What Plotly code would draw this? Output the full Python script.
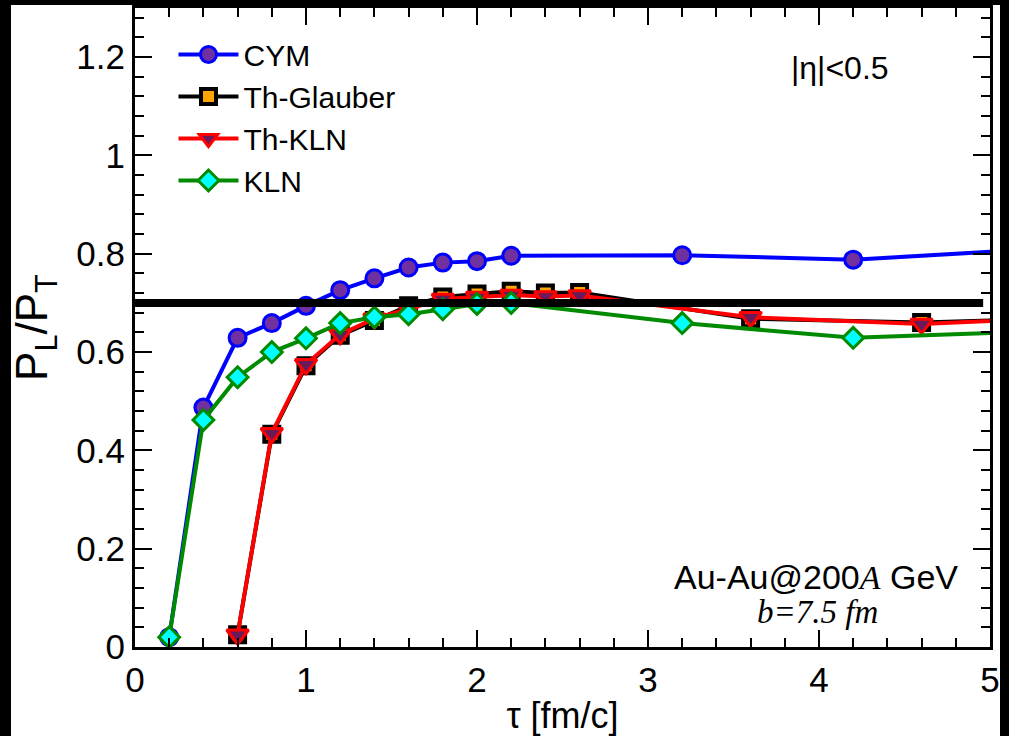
import plotly.graph_objects as go

# ---- data ----
tau_cym = [0.2, 0.4, 0.6, 0.8, 1.0, 1.2, 1.4, 1.6, 1.8, 2.0, 2.2, 3.2, 4.2, 5.2]
cym = [0.020, 0.487, 0.629, 0.659, 0.694, 0.726, 0.750, 0.772, 0.782, 0.785, 0.796, 0.797, 0.788, 0.808]
kln = [0.020, 0.462, 0.549, 0.600, 0.628, 0.659, 0.671, 0.677, 0.687, 0.698, 0.700, 0.659, 0.629, 0.641]

tau_th = [0.6, 0.8, 1.0, 1.2, 1.4, 1.6, 1.8, 2.0, 2.2, 2.4, 2.6, 3.6, 4.6, 5.6]
th_glauber = [0.025, 0.433, 0.572, 0.634, 0.664, 0.694, 0.712, 0.718, 0.724, 0.720, 0.721, 0.668, 0.660, 0.670]
th_kln = [0.025, 0.435, 0.575, 0.636, 0.668, 0.688, 0.708, 0.712, 0.716, 0.713, 0.715, 0.671, 0.657, 0.673]

ref_level = 0.7
ref_end = 4.96

x_range = [0, 5]
y_range = [0, 1.3]

FONT = "Liberation Sans, Arial, sans-serif"

fig = go.Figure()
fig.add_trace(go.Scatter(
    x=tau_cym, y=cym, name="CYM", mode="lines+markers",
    line=dict(color="#0000ff", width=4),
    marker=dict(symbol="circle", size=17, color="#7030a0", line=dict(color="#0000ff", width=3))))
fig.add_trace(go.Scatter(
    x=tau_th, y=th_glauber, name="Th-Glauber", mode="lines+markers",
    line=dict(color="#000000", width=4),
    marker=dict(symbol="square", size=15, color="#ffa500", line=dict(color="#000000", width=4))))
fig.add_trace(go.Scatter(
    x=tau_th, y=th_kln, name="Th-KLN", mode="lines+markers",
    line=dict(color="#ff0000", width=4),
    marker=dict(symbol="triangle-down", size=19, color="#6a1a5a", line=dict(color="#ff0000", width=3))))
fig.add_trace(go.Scatter(
    x=tau_cym, y=kln, name="KLN", mode="lines+markers",
    line=dict(color="#008a00", width=4),
    marker=dict(symbol="diamond", size=16, color="#00ffff", line=dict(color="#008a00", width=3))))
# empty trace that only activates the tick-overlay axes
fig.add_trace(go.Scatter(x=[], y=[], xaxis="x2", yaxis="y2", showlegend=False, hoverinfo="skip"))

# reference line
fig.add_shape(type="line", xref="x", yref="y", x0=0, x1=ref_end, y0=ref_level, y1=ref_level,
              line=dict(color="black", width=8), layer="above")

# black borders of the cropped picture (paper coords relative to plot area)
PW, PH = 855.0, 639.0
def px_x(p):
    return (p - 135) / PW
def px_y(p):
    return (647 - p) / PH
for (x0, x1, y0, y1) in [(-5, 11, -5, 745), (-5, 1015, -5, 5), (1000, 1015, -5, 745)]:
    fig.add_shape(type="rect", xref="paper", yref="paper",
                  x0=px_x(x0), x1=px_x(x1), y0=px_y(y1), y1=px_y(y0),
                  fillcolor="black", line=dict(width=0), layer="above")

fig.update_layout(
    xaxis=dict(range=x_range, dtick=1, showline=True, linecolor="black", linewidth=3, mirror="ticks",
               ticks="inside", ticklen=17, tickwidth=2, tickcolor="black",
               gridcolor="rgba(0,0,0,0)", zeroline=False,
               minor=dict(ticks="inside", ticklen=9, tickwidth=2, dtick=0.2, tickcolor="black"),
               tickfont=dict(family=FONT, size=35, color="black"),
               title=dict(text="τ [fm/c]", font=dict(family=FONT, size=36, color="black"))),
    yaxis=dict(range=y_range, dtick=0.2, showline=True, linecolor="black", linewidth=3, mirror="ticks",
               ticks="inside", ticklen=17, tickwidth=2, tickcolor="black",
               gridcolor="rgba(0,0,0,0)", zeroline=False,
               minor=dict(ticks="inside", ticklen=9, tickwidth=2, dtick=0.04, tickcolor="black"),
               tickfont=dict(family=FONT, size=35, color="black"),
               title=dict(text="P<sub>L</sub>/P<sub>T</sub>", font=dict(family=FONT, size=44, color="black"))),
    # overlay axes carrying only the tick marks
    xaxis2=dict(overlaying="x", anchor="y2", range=x_range, showline=True, linecolor="black", linewidth=3,
                mirror="ticks", ticks="inside", ticklen=17, tickwidth=2, tickcolor="black", dtick=1,
                minor=dict(ticks="inside", ticklen=9, tickwidth=2, dtick=0.2, tickcolor="black"),
                showticklabels=False, showgrid=False, zeroline=False),
    yaxis2=dict(overlaying="y", anchor="x2", range=y_range, showline=True, linecolor="black", linewidth=3,
                mirror="ticks", ticks="inside", ticklen=17, tickwidth=2, tickcolor="black", dtick=0.2,
                minor=dict(ticks="inside", ticklen=9, tickwidth=2, dtick=0.04, tickcolor="black"),
                showticklabels=False, showgrid=False, zeroline=False),
)

fig.add_annotation(xref="paper", yref="paper", x=px_x(789), y=px_y(68), xanchor="left", yanchor="middle",
                   text="|η|<0.5", showarrow=False, font=dict(family=FONT, size=32, color="black"))
fig.add_annotation(xref="paper", yref="paper", x=px_x(960), y=px_y(577), xanchor="right", yanchor="middle",
                   text="Au-Au@200<i><span style='font-family:Liberation Serif'>A</span></i> GeV", showarrow=False,
                   font=dict(family=FONT, size=34, color="black"))
fig.add_annotation(xref="paper", yref="paper", x=px_x(817), y=px_y(612), xanchor="center", yanchor="middle",
                   text="<i>b=7.5 fm</i>", showarrow=False,
                   font=dict(family="Liberation Serif, Times New Roman, serif", size=33, color="black"))

fig.update_layout(
    width=1009, height=736,
    margin=dict(l=135, r=19, t=8, b=89, autoexpand=False),
    paper_bgcolor="white", plot_bgcolor="white",
    showlegend=True,
    legend=dict(x=0.045, y=0.968, xanchor="left", yanchor="top", bgcolor="rgba(0,0,0,0)",
                font=dict(family=FONT, size=30, color="black"), itemwidth=60),
)

fig.write_html("out.html")
